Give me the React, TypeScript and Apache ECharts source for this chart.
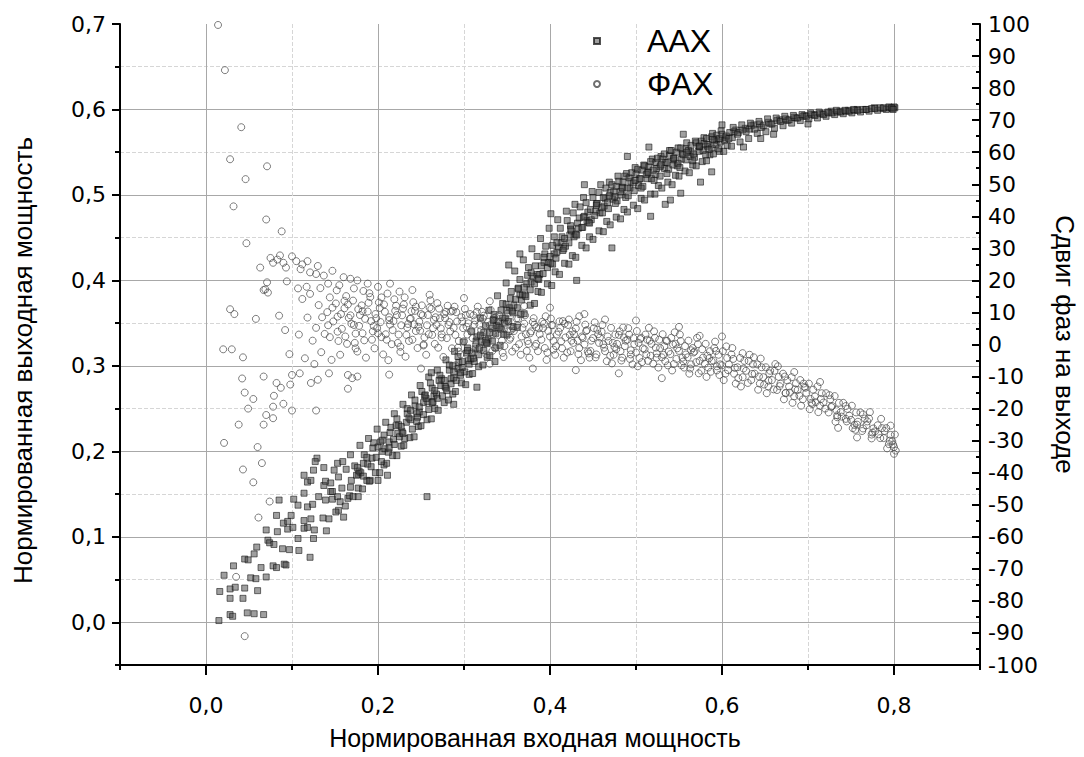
import React, { useEffect, useRef } from "react";
import * as echarts from "echarts";

// Axis tick values
const xMajorTicks = [0, 0.2, 0.4, 0.6, 0.8];
const leftMajorTicks = [0, 0.1, 0.2, 0.3, 0.4, 0.5, 0.6, 0.7];
const leftSolidGrid = [0, 0.1, 0.2, 0.3, 0.4, 0.5, 0.6];

const seriesNames = ["ААХ", "ФАХ"];
const xTitle = "Нормированная входная мощность";
const leftTitle = "Нормированная выходная мощность";
const rightTitle = "Сдвиг фаз на выходе";

// ААХ: [input power, output power] (left axis)
const aaxLow = [
  [0.015, 0.002], [0.028, 0.009], [0.031, 0.007], [0.048, 0.011], [0.056, 0.01], [0.067, 0.009],
  [0.016, 0.036], [0.028, 0.039], [0.034, 0.041], [0.045, 0.04], [0.06, 0.037], [0.028, 0.028],
  [0.043, 0.028], [0.021, 0.055], [0.032, 0.066], [0.045, 0.074], [0.049, 0.073], [0.056, 0.08],
  [0.064, 0.064], [0.07, 0.053], [0.052, 0.052], [0.058, 0.051], [0.078, 0.066], [0.082, 0.064],
  [0.091, 0.068], [0.059, 0.088], [0.072, 0.096], [0.07, 0.108], [0.083, 0.106], [0.095, 0.109],
  [0.107, 0.098], [0.121, 0.076], [0.108, 0.084], [0.125, 0.098], [0.118, 0.111], [0.082, 0.125],
  [0.102, 0.144], [0.085, 0.143], [0.114, 0.151], [0.129, 0.192], [0.257, 0.147], [0.093, 0.067],
  [0.089, 0.086], [0.097, 0.085], [0.074, 0.093], [0.079, 0.091], [0.101, 0.111], [0.114, 0.11],
  [0.126, 0.108], [0.14, 0.107], [0.114, 0.119], [0.099, 0.125], [0.09, 0.116], [0.095, 0.118],
  [0.122, 0.121], [0.136, 0.122], [0.143, 0.121], [0.107, 0.137], [0.118, 0.135], [0.124, 0.138],
  [0.131, 0.147], [0.139, 0.143], [0.147, 0.144], [0.154, 0.131], [0.16, 0.123], [0.153, 0.147],
  [0.165, 0.145], [0.168, 0.158], [0.177, 0.147], [0.145, 0.153], [0.137, 0.16], [0.139, 0.165],
  [0.118, 0.164], [0.122, 0.166], [0.114, 0.172], [0.125, 0.178], [0.127, 0.188], [0.137, 0.181],
  [0.149, 0.178], [0.153, 0.186], [0.191, 0.166], [0.211, 0.172], [0.2, 0.166], [0.177, 0.173],
  [0.18, 0.175]
];

const aaxRise = [
  [0.151, 0.129], [0.147, 0.153], [0.154, 0.17], [0.156, 0.141], [0.145, 0.163],
  [0.162, 0.136], [0.158, 0.157], [0.163, 0.179], [0.167, 0.148], [0.159, 0.188],
  [0.171, 0.147], [0.169, 0.166], [0.173, 0.183], [0.177, 0.157], [0.168, 0.196], [0.175, 0.172],
  [0.182, 0.156], [0.178, 0.177], [0.184, 0.196], [0.187, 0.166], [0.179, 0.207], [0.183, 0.186],
  [0.19, 0.165], [0.188, 0.185], [0.194, 0.204], [0.197, 0.175], [0.189, 0.215], [0.193, 0.192],
  [0.202, 0.175], [0.198, 0.193], [0.203, 0.211], [0.207, 0.184], [0.199, 0.226], [0.205, 0.2],
  [0.21, 0.186], [0.208, 0.203], [0.214, 0.222], [0.217, 0.195], [0.209, 0.234], [0.213, 0.211],
  [0.222, 0.195], [0.218, 0.214], [0.224, 0.231], [0.227, 0.206], [0.219, 0.244], [0.223, 0.221],
  [0.23, 0.207], [0.228, 0.223], [0.234, 0.244], [0.237, 0.216], [0.229, 0.255], [0.233, 0.234],
  [0.242, 0.217], [0.238, 0.237], [0.243, 0.253], [0.247, 0.229], [0.239, 0.266], [0.245, 0.244],
  [0.25, 0.23], [0.248, 0.246], [0.254, 0.265], [0.257, 0.237], [0.249, 0.277], [0.253, 0.257],
  [0.262, 0.238], [0.258, 0.258], [0.263, 0.274], [0.266, 0.25], [0.259, 0.287], [0.265, 0.265],
  [0.27, 0.248], [0.268, 0.267], [0.274, 0.285], [0.277, 0.257], [0.269, 0.295], [0.273, 0.277],
  [0.282, 0.26], [0.278, 0.276], [0.283, 0.295], [0.287, 0.267], [0.279, 0.307], [0.285, 0.285],
  [0.29, 0.27], [0.288, 0.286], [0.294, 0.304], [0.297, 0.28], [0.289, 0.317], [0.293, 0.297],
  [0.302, 0.278], [0.298, 0.298], [0.303, 0.315], [0.306, 0.29], [0.299, 0.328], [0.305, 0.306],
  [0.31, 0.291], [0.308, 0.308], [0.314, 0.329], [0.317, 0.299], [0.309, 0.34], [0.313, 0.32],
  [0.322, 0.301], [0.318, 0.321], [0.323, 0.339], [0.327, 0.31], [0.319, 0.356], [0.325, 0.33],
  [0.33, 0.312], [0.328, 0.331], [0.334, 0.353], [0.337, 0.321], [0.329, 0.365], [0.333, 0.344],
  [0.342, 0.324], [0.338, 0.347], [0.343, 0.365], [0.346, 0.337], [0.339, 0.382], [0.345, 0.356],
  [0.35, 0.336], [0.348, 0.356], [0.354, 0.379], [0.357, 0.346], [0.349, 0.397], [0.353, 0.368],
  [0.362, 0.345], [0.358, 0.371], [0.363, 0.391], [0.366, 0.36], [0.359, 0.411], [0.365, 0.383],
  [0.37, 0.361], [0.368, 0.383], [0.374, 0.406], [0.377, 0.371], [0.369, 0.424], [0.373, 0.396],
  [0.382, 0.373], [0.378, 0.398], [0.383, 0.417], [0.386, 0.387], [0.379, 0.437], [0.385, 0.407],
  [0.39, 0.386], [0.388, 0.407], [0.394, 0.431], [0.397, 0.396], [0.389, 0.449], [0.393, 0.421],
  [0.402, 0.394], [0.398, 0.421], [0.403, 0.441], [0.406, 0.41], [0.399, 0.461], [0.405, 0.431],
  [0.352, 0.418], [0.365, 0.431], [0.315, 0.275], [0.336, 0.305], [0.288, 0.255], [0.262, 0.292]
];

const aaxUpper = [
  [0.411, 0.407], [0.408, 0.433], [0.414, 0.451], [0.417, 0.42], [0.409, 0.471], [0.413, 0.444],
  [0.422, 0.419], [0.418, 0.44], [0.424, 0.464], [0.426, 0.429], [0.419, 0.481], [0.423, 0.453],
  [0.43, 0.427], [0.428, 0.451], [0.434, 0.473], [0.437, 0.441], [0.429, 0.489], [0.433, 0.461],
  [0.442, 0.438], [0.438, 0.462], [0.444, 0.48], [0.446, 0.451], [0.439, 0.497], [0.443, 0.47],
  [0.45, 0.448], [0.448, 0.471], [0.454, 0.49], [0.457, 0.458], [0.449, 0.504], [0.453, 0.481],
  [0.462, 0.457], [0.458, 0.479], [0.464, 0.496], [0.466, 0.469], [0.459, 0.512], [0.463, 0.487],
  [0.47, 0.465], [0.468, 0.484], [0.474, 0.504], [0.477, 0.474], [0.469, 0.515], [0.473, 0.495],
  [0.482, 0.472], [0.478, 0.493], [0.484, 0.509], [0.486, 0.483], [0.479, 0.522], [0.483, 0.5],
  [0.49, 0.48], [0.488, 0.497], [0.494, 0.516], [0.497, 0.488], [0.489, 0.525], [0.493, 0.508],
  [0.502, 0.484], [0.498, 0.505], [0.504, 0.519], [0.506, 0.496], [0.499, 0.532], [0.503, 0.511],
  [0.51, 0.494], [0.508, 0.51], [0.514, 0.527], [0.517, 0.501], [0.509, 0.535], [0.513, 0.519],
  [0.522, 0.501], [0.518, 0.519], [0.524, 0.531], [0.526, 0.511], [0.519, 0.542], [0.523, 0.524],
  [0.53, 0.508], [0.528, 0.522], [0.534, 0.538], [0.537, 0.515], [0.529, 0.545], [0.533, 0.531],
  [0.542, 0.512], [0.538, 0.53], [0.544, 0.541], [0.546, 0.523], [0.539, 0.552], [0.543, 0.535],
  [0.55, 0.522], [0.548, 0.534], [0.554, 0.548], [0.557, 0.528], [0.549, 0.555], [0.553, 0.542],
  [0.562, 0.526], [0.558, 0.541], [0.564, 0.55], [0.566, 0.535], [0.559, 0.561], [0.563, 0.545],
  [0.57, 0.534], [0.568, 0.544], [0.574, 0.556], [0.577, 0.539], [0.569, 0.563], [0.573, 0.551],
  [0.582, 0.54], [0.578, 0.552], [0.584, 0.559], [0.586, 0.547], [0.579, 0.567], [0.583, 0.557],
  [0.59, 0.548], [0.588, 0.555], [0.594, 0.565], [0.597, 0.551], [0.589, 0.572], [0.593, 0.559],
  [0.602, 0.551], [0.598, 0.562], [0.604, 0.567], [0.606, 0.558], [0.599, 0.575], [0.603, 0.564],
  [0.517, 0.475], [0.534, 0.489], [0.552, 0.502], [0.575, 0.515], [0.588, 0.527], [0.54, 0.494],
  [0.472, 0.438], [0.431, 0.4], [0.401, 0.478], [0.44, 0.512], [0.49, 0.545], [0.515, 0.556],
  [0.555, 0.571], [0.6, 0.582]
];

const aaxDense = [
  [0.176, 0.181], [0.183, 0.171], [0.187, 0.193], [0.192, 0.182], [0.195, 0.21], [0.2, 0.205],
  [0.204, 0.188], [0.207, 0.219], [0.212, 0.199], [0.215, 0.228], [0.219, 0.208], [0.222, 0.238],
  [0.225, 0.217], [0.227, 0.229], [0.231, 0.215], [0.234, 0.25], [0.236, 0.239], [0.24, 0.226],
  [0.243, 0.26], [0.245, 0.235], [0.248, 0.252], [0.251, 0.27], [0.253, 0.243], [0.256, 0.262],
  [0.259, 0.249], [0.261, 0.28], [0.264, 0.258], [0.266, 0.271], [0.269, 0.262], [0.272, 0.289],
  [0.275, 0.265], [0.277, 0.283], [0.28, 0.271], [0.283, 0.301], [0.285, 0.279], [0.288, 0.293],
  [0.291, 0.283], [0.293, 0.311], [0.296, 0.289], [0.298, 0.305], [0.301, 0.293], [0.304, 0.321],
  [0.306, 0.302], [0.309, 0.315], [0.312, 0.305], [0.315, 0.334], [0.317, 0.313], [0.32, 0.328],
  [0.323, 0.318], [0.325, 0.347], [0.327, 0.326], [0.33, 0.339], [0.333, 0.329], [0.335, 0.36],
  [0.337, 0.338], [0.34, 0.352], [0.343, 0.343], [0.345, 0.373], [0.347, 0.35], [0.35, 0.365],
  [0.352, 0.352], [0.355, 0.387], [0.357, 0.362], [0.36, 0.378], [0.362, 0.368], [0.365, 0.401],
  [0.367, 0.377], [0.37, 0.392], [0.372, 0.381], [0.375, 0.415], [0.377, 0.389], [0.38, 0.405],
  [0.382, 0.396], [0.385, 0.428], [0.387, 0.401], [0.39, 0.417], [0.392, 0.408], [0.395, 0.44],
  [0.397, 0.415], [0.4, 0.428], [0.403, 0.419], [0.405, 0.451], [0.407, 0.426], [0.41, 0.439],
  [0.412, 0.461], [0.415, 0.435], [0.417, 0.449], [0.42, 0.47], [0.422, 0.444], [0.425, 0.458],
  [0.427, 0.479], [0.43, 0.454], [0.432, 0.467], [0.435, 0.486], [0.437, 0.462], [0.44, 0.475],
  [0.442, 0.491], [0.445, 0.468], [0.447, 0.483], [0.45, 0.497], [0.452, 0.476], [0.455, 0.49],
  [0.457, 0.503], [0.46, 0.485], [0.462, 0.497], [0.465, 0.508], [0.467, 0.491], [0.47, 0.503],
  [0.472, 0.512], [0.475, 0.498], [0.477, 0.51], [0.48, 0.516], [0.482, 0.504], [0.485, 0.515],
  [0.487, 0.522], [0.49, 0.508], [0.492, 0.52], [0.495, 0.526], [0.497, 0.514], [0.5, 0.524],
  [0.502, 0.53], [0.505, 0.519], [0.507, 0.529], [0.51, 0.534], [0.512, 0.524], [0.515, 0.533],
  [0.517, 0.539], [0.52, 0.529], [0.523, 0.538], [0.525, 0.543], [0.528, 0.533], [0.531, 0.542],
  [0.533, 0.548], [0.536, 0.538], [0.539, 0.546], [0.541, 0.552], [0.544, 0.543], [0.547, 0.55],
  [0.549, 0.537], [0.552, 0.555], [0.555, 0.547], [0.558, 0.554], [0.561, 0.552], [0.564, 0.558],
  [0.567, 0.548], [0.57, 0.561], [0.573, 0.557], [0.576, 0.563], [0.579, 0.56], [0.582, 0.566],
  [0.585, 0.553], [0.588, 0.568], [0.591, 0.564], [0.594, 0.57], [0.597, 0.566], [0.6, 0.571],
  [0.605, 0.569], [0.609, 0.573], [0.612, 0.567], [0.616, 0.576], [0.619, 0.573], [0.627, 0.578],
  [0.632, 0.577], [0.637, 0.582], [0.646, 0.579], [0.656, 0.583], [0.667, 0.588], [0.676, 0.587],
  [0.686, 0.59], [0.696, 0.593], [0.707, 0.594], [0.717, 0.595], [0.727, 0.598], [0.737, 0.598],
  [0.747, 0.599], [0.757, 0.6], [0.767, 0.6], [0.777, 0.602], [0.787, 0.601], [0.795, 0.602],
  [0.801, 0.602]
];

// densest middle of the ААХ cloud
const aaxCore = [
  [0.205, 0.213], [0.221, 0.23], [0.238, 0.248], [0.255, 0.266], [0.271, 0.283], [0.287, 0.3],
  [0.304, 0.318], [0.319, 0.336], [0.334, 0.354], [0.349, 0.372], [0.363, 0.39], [0.378, 0.409],
  [0.393, 0.427], [0.408, 0.444], [0.424, 0.46], [0.439, 0.474], [0.454, 0.488], [0.469, 0.499],
  [0.484, 0.508], [0.499, 0.517], [0.514, 0.526], [0.529, 0.535], [0.544, 0.543], [0.559, 0.55],
  [0.574, 0.557], [0.589, 0.565],
  [0.213, 0.204], [0.229, 0.221], [0.246, 0.24], [0.263, 0.257], [0.279, 0.274], [0.296, 0.292],
  [0.311, 0.309], [0.326, 0.327], [0.341, 0.345], [0.356, 0.364], [0.371, 0.383], [0.386, 0.402],
  [0.401, 0.42], [0.416, 0.437], [0.431, 0.453], [0.446, 0.467], [0.461, 0.479], [0.476, 0.49],
  [0.491, 0.499], [0.506, 0.508], [0.521, 0.517], [0.536, 0.525], [0.551, 0.532], [0.566, 0.54],
  [0.581, 0.547], [0.596, 0.554]
];

const aaxTop = [
  [0.611, 0.557], [0.608, 0.566], [0.614, 0.574], [0.613, 0.579],
  [0.621, 0.562], [0.618, 0.571], [0.624, 0.576], [0.623, 0.582],
  [0.631, 0.566], [0.628, 0.574], [0.634, 0.581], [0.633, 0.584],
  [0.641, 0.572], [0.638, 0.577], [0.644, 0.583], [0.643, 0.586],
  [0.651, 0.574], [0.648, 0.581], [0.654, 0.585], [0.653, 0.589],
  [0.661, 0.578], [0.658, 0.583], [0.664, 0.587], [0.663, 0.59],
  [0.671, 0.581], [0.668, 0.586], [0.674, 0.589], [0.673, 0.592],
  [0.681, 0.584], [0.678, 0.588], [0.684, 0.591], [0.683, 0.593],
  [0.691, 0.587], [0.688, 0.59], [0.694, 0.592], [0.693, 0.594],
  [0.701, 0.589], [0.698, 0.592], [0.704, 0.594], [0.703, 0.596],
  [0.711, 0.59], [0.708, 0.593], [0.714, 0.595], [0.713, 0.597],
  [0.721, 0.592], [0.718, 0.594], [0.724, 0.596], [0.723, 0.597],
  [0.731, 0.594], [0.728, 0.596], [0.734, 0.597], [0.733, 0.599],
  [0.741, 0.595], [0.738, 0.597], [0.744, 0.598], [0.743, 0.599],
  [0.751, 0.596], [0.748, 0.598], [0.754, 0.599], [0.753, 0.6],
  [0.761, 0.597], [0.758, 0.599], [0.764, 0.6],
  [0.771, 0.598], [0.768, 0.6], [0.774, 0.601],
  [0.781, 0.599], [0.778, 0.601], [0.784, 0.602],
  [0.791, 0.6], [0.788, 0.602], [0.794, 0.603],
  [0.798, 0.601], [0.8, 0.603], [0.797, 0.602], [0.799, 0.6],
  [0.625, 0.556], [0.66, 0.571], [0.7, 0.583], [0.645, 0.566]
];

// ФАХ: [input power, phase shift in degrees] (right axis)
const fazSparse = [
  [0.014, 99.7], [0.022, 85.6], [0.041, 67.8], [0.028, 57.8], [0.071, 55.6], [0.046, 51.6],
  [0.032, 43.1], [0.07, 39], [0.088, 35.3], [0.047, 31.6], [0.075, 27], [0.083, 26.5],
  [0.09, 25.5], [0.1, 27.5], [0.063, 24], [0.112, 25], [0.118, 26], [0.121, 22.5],
  [0.128, 22], [0.147, 23], [0.16, 21], [0.168, 20.5], [0.176, 20], [0.188, 19],
  [0.214, 19], [0.094, 19.7], [0.071, 19.4], [0.069, 17.2], [0.072, 16.2], [0.107, 17.5],
  [0.117, 18], [0.067, 17], [0.028, 11], [0.033, 9.5], [0.058, 8], [0.02, -1.5],
  [0.03, -1.5], [0.043, -4], [0.042, -10.6], [0.067, -10], [0.082, -12], [0.087, -13.5],
  [0.098, -12.5], [0.045, -15], [0.055, -17], [0.079, -16], [0.09, -18.5], [0.049, -20],
  [0.078, -19.4], [0.07, -22], [0.078, -23], [0.038, -25], [0.067, -25], [0.021, -30.7],
  [0.06, -32], [0.1, -20.6], [0.128, -20.6], [0.122, -12], [0.13, -11], [0.165, -13.8],
  [0.1, -9.5], [0.109, -9], [0.143, -9], [0.165, -9.5], [0.17, -10.5], [0.176, -10],
  [0.213, -9.4], [0.065, -37], [0.043, -39], [0.055, -43], [0.074, -49], [0.061, -54],
  [0.035, -72.5], [0.045, -91], [0.092, 4.5], [0.085, 9], [0.097, -3]
];

const fazFringe = [
  [0.078, 25.5], [0.086, 27.8], [0.093, 24], [0.105, 26], [0.11, 23.5], [0.13, 24.5],
  [0.137, 21.5], [0.142, 19], [0.155, 18.5], [0.172, 17.5], [0.19, 16], [0.2, 18],
  [0.225, 16.5], [0.24, 17], [0.26, 15.5], [0.3, 14.5], [0.33, 13.5], [0.37, 12],
  [0.4, 11.5], [0.44, 9.5], [0.5, 7.5], [0.55, 5.5], [0.6, 2.5], [0.25, -7.5],
  [0.29, -6.5], [0.33, -6], [0.38, -7.5], [0.43, -8], [0.48, -9], [0.53, -10.5]
];

const fazBodyLeft = [
  [0.112, 14.2], [0.108, 3.1], [0.115, -4.3],
  [0.121, 15.8], [0.118, 8.4], [0.124, 1.2], [0.126, -6.1],
  [0.131, 12.3], [0.128, 5.2], [0.134, -2.4], [0.133, 17.6],
  [0.141, 10.1], [0.138, 3.3], [0.144, 14.7], [0.146, -4.8],
  [0.151, 12.8], [0.148, 7.2], [0.154, 1.1], [0.156, -3.2], [0.152, 16.9],
  [0.161, 11.3], [0.158, 4.9], [0.164, 0.2], [0.163, 15.1], [0.166, 8.3],
  [0.171, 13.7], [0.168, 9.1], [0.174, 3.4], [0.176, -2.2], [0.172, 6.1],
  [0.181, 12.2], [0.178, 5.8], [0.184, 1.3], [0.183, 16.7], [0.186, -4.1], [0.179, 9.2],
  [0.191, 14.8], [0.188, 10.3], [0.194, 4.1], [0.196, -1.2], [0.192, 7.3],
  [0.201, 13.1], [0.198, 8.2], [0.204, 2.3], [0.206, -3.1], [0.202, 11.4], [0.199, 5.1],
  [0.211, 15.9], [0.208, 10.2], [0.214, 6.2], [0.216, 0.1], [0.212, -4.9], [0.209, 3.2],
  [0.221, 12.1], [0.218, 7.3], [0.224, 3.1], [0.226, -2.3], [0.222, 9.2], [0.219, 14.1],
  [0.231, 14.7], [0.228, 9.1], [0.234, 5.3], [0.236, 1.1], [0.232, -3.8], [0.229, 11.2],
  [0.241, 13.2], [0.238, 8.1], [0.244, 4.2], [0.246, -1.1], [0.242, 6.3], [0.239, 10.4],
  [0.251, 12.2], [0.248, 7.1], [0.254, 2.2], [0.256, -3.2], [0.252, 9.1], [0.249, 4.3],
  [0.261, 13.8], [0.258, 9.2], [0.264, 5.1], [0.266, 0.2], [0.262, 11.1], [0.259, 3.2],
  [0.271, 11.2], [0.268, 6.1], [0.274, 2.2], [0.276, -3.9], [0.272, 8.2], [0.269, 12.9],
  [0.281, 12.1], [0.278, 8.2], [0.284, 4.1], [0.286, -1.2], [0.282, 6.1], [0.279, 10.2],
  [0.291, 10.1], [0.288, 5.2], [0.294, 1.1], [0.296, -3.1], [0.292, 7.2], [0.289, 11.8],
  [0.301, 11.1], [0.298, 7.2], [0.304, 3.1], [0.306, -2.1], [0.302, 9.2], [0.299, 5.1]
];

const fazBodyMid = [
  [0.311, 9.1], [0.308, 4.2], [0.314, 0.1], [0.316, 11.8], [0.312, 6.2],
  [0.321, 10.2], [0.318, 6.1], [0.324, 2.2], [0.326, -3.1], [0.322, 8.1],
  [0.331, 10.8], [0.328, 7.1], [0.334, 3.2], [0.336, -1.1], [0.332, 5.1],
  [0.341, 9.2], [0.338, 5.1], [0.344, 1.2], [0.346, -3.9], [0.342, 7.1],
  [0.351, 9.8], [0.348, 6.2], [0.354, 2.1], [0.356, -2.2], [0.352, 4.1],
  [0.361, 8.1], [0.358, 4.2], [0.364, 0.1], [0.366, -3.2], [0.362, 6.1],
  [0.371, 9.1], [0.368, 5.2], [0.374, 1.1], [0.376, -4.1], [0.372, 3.2],
  [0.381, 8.2], [0.378, 4.1], [0.384, 0.2], [0.386, -2.1], [0.382, 6.2],
  [0.391, 7.1], [0.388, 3.2], [0.394, -1.1], [0.396, -4.8], [0.392, 5.1],
  [0.401, 8.1], [0.398, 4.2], [0.404, 1.1], [0.406, -3.2], [0.402, 6.1],
  [0.411, 7.2], [0.408, 3.1], [0.414, -1.2], [0.416, -4.1], [0.412, 5.2],
  [0.421, 6.1], [0.418, 2.2], [0.424, -2.1], [0.426, 4.1], [0.422, 7.8],
  [0.431, 7.1], [0.428, 3.2], [0.434, -1.1], [0.436, -4.9], [0.432, 1.2],
  [0.441, 6.2], [0.438, 2.1], [0.444, -2.2], [0.446, -4.1], [0.442, 4.2],
  [0.451, 5.1], [0.448, 1.2], [0.454, -3.1], [0.456, 3.2], [0.452, 6.9],
  [0.461, 6.1], [0.458, 2.2], [0.464, -2.1], [0.466, -5.2], [0.462, 0.1],
  [0.471, 5.2], [0.468, 1.1], [0.474, -3.2], [0.476, 3.1], [0.472, -5.9],
  [0.481, 4.1], [0.478, 0.2], [0.484, -4.1], [0.486, 2.2], [0.482, -2.1],
  [0.491, 5.1], [0.488, 1.2], [0.494, -3.1], [0.496, -6.2], [0.492, 3.1],
  [0.501, 4.2], [0.498, 0.1], [0.504, -4.2], [0.506, 2.1], [0.502, -6.8],
  [0.511, 3.1], [0.508, -1.2], [0.514, -5.1], [0.516, 1.2], [0.512, -3.1],
  [0.521, 4.1], [0.518, 0.2], [0.524, -4.1], [0.526, -7.2], [0.522, 2.1],
  [0.531, 3.2], [0.528, -1.1], [0.534, -5.2], [0.536, 1.1], [0.532, -3.2],
  [0.541, 2.1], [0.538, -2.2], [0.544, -6.1], [0.546, 0.2], [0.542, -8.1],
  [0.551, 3.1], [0.548, -1.2], [0.554, -4.1], [0.556, -7.2], [0.552, 1.1],
  [0.561, 1.2], [0.558, -3.1], [0.564, -6.2], [0.566, -1.1], [0.562, -9.1],
  [0.571, 2.1], [0.568, -2.2], [0.574, -5.1], [0.576, -8.2], [0.572, 0.1],
  [0.581, 0.2], [0.578, -4.1], [0.584, -7.2], [0.586, -2.1], [0.582, -10.1],
  [0.591, -1.1], [0.588, -5.2], [0.594, -8.1], [0.596, -3.2], [0.592, 0.9],
  [0.601, -2.1], [0.598, -6.2], [0.604, -9.1], [0.606, -4.2], [0.602, -11.1]
];

const fazDense = [
  [0.135, 8.5], [0.142, 6], [0.147, 11.5], [0.153, 4], [0.157, 9.5], [0.162, 2.5],
  [0.165, 12.5], [0.169, 6.5], [0.173, 0.5], [0.177, 11], [0.182, 3.5], [0.185, 8],
  [0.189, 13], [0.193, 1.5], [0.197, 9.5], [0.2, 3.5], [0.203, 7], [0.207, 12.5],
  [0.21, 1.5], [0.213, 8.5], [0.217, 4.5], [0.22, 10.5], [0.223, 0.5], [0.227, 6],
  [0.23, 12.5], [0.233, 3], [0.237, 8], [0.24, 1.5], [0.243, 10.5], [0.247, 5.5],
  [0.25, 9.5], [0.253, 0], [0.257, 6], [0.26, 11.5], [0.263, 3], [0.267, 8.5],
  [0.27, -1], [0.273, 5], [0.277, 9.5], [0.28, 2], [0.283, 7], [0.287, 10.5],
  [0.29, 3], [0.293, -1], [0.297, 8.5], [0.3, 1], [0.303, 5.5], [0.307, 9.5],
  [0.31, 2], [0.313, 7.5], [0.317, -1.5], [0.32, 4.5], [0.323, 9], [0.327, 1],
  [0.33, 6], [0.333, -2], [0.337, 8.5], [0.34, 3], [0.343, 5], [0.347, -0.5],
  [0.35, 7.5], [0.353, 1.5], [0.357, 5], [0.36, -1], [0.363, 8], [0.367, 2.5],
  [0.37, 6.5], [0.373, -2], [0.377, 3.5], [0.38, 7], [0.383, -0.5], [0.387, 5],
  [0.39, 1.5], [0.393, 6.5], [0.397, -2.5], [0.4, 2.5], [0.403, 6], [0.407, -0.5],
  [0.41, 4], [0.413, 1], [0.417, 6.5], [0.42, -2.5], [0.423, 3], [0.427, 0.5],
  [0.43, 5], [0.433, -3], [0.437, 2.5], [0.44, 0], [0.443, 4.5], [0.447, -2],
  [0.45, 2], [0.453, -4], [0.457, 0.5], [0.46, 4], [0.463, -1], [0.467, 2.5],
  [0.47, -3.5], [0.473, 0.5], [0.477, -1.5], [0.48, 3], [0.483, -5], [0.487, -0.5],
  [0.49, 1.5], [0.493, -4.5], [0.497, 2], [0.5, -2.5], [0.503, 0.5], [0.507, -5.5],
  [0.51, -1.5], [0.513, 1.5], [0.517, -3.5], [0.52, -6], [0.523, -1], [0.527, 1.5],
  [0.53, -4], [0.533, -0.5], [0.537, -6.5], [0.54, -3], [0.543, 0], [0.547, -4.5],
  [0.55, -2], [0.553, -6.5], [0.557, -0.5], [0.56, -4], [0.563, -7.5], [0.567, -2.5],
  [0.57, -5.5], [0.573, -9], [0.577, -1.5], [0.58, -6], [0.583, -3.5], [0.587, -8.5],
  [0.59, -5], [0.593, -2], [0.597, -9.5], [0.6, -6.5], [0.607, -8], [0.613, -4.5],
  [0.619, -10.5], [0.625, -7.5], [0.63, -12], [0.637, -4], [0.643, -10], [0.649, -12.5],
  [0.655, -9], [0.66, -14], [0.667, -13], [0.673, -10], [0.679, -15], [0.685, -14],
  [0.69, -16], [0.697, -13.5], [0.703, -17], [0.709, -18], [0.715, -17], [0.72, -20],
  [0.727, -19.5], [0.733, -20.5], [0.739, -22.5], [0.745, -24], [0.75, -23.5], [0.757, -25],
  [0.763, -27], [0.769, -24], [0.775, -27.5], [0.782, -28], [0.789, -27], [0.795, -30],
  [0.8, -32]
];

// further circles filling the main ФАХ band
const fazCore = [
  [0.144, 2.3], [0.153, 8.7], [0.161, 13.6], [0.174, -1.2], [0.182, 10.4], [0.195, 5.8],
  [0.204, 14.7], [0.213, 7.6], [0.226, -0.7], [0.235, 6.4], [0.244, 11.8], [0.253, -0.3],
  [0.265, 7.7], [0.274, 3.2], [0.285, 10.3], [0.294, -2.2], [0.305, 6.6], [0.315, 10.2],
  [0.324, 0.3], [0.335, 8.3], [0.345, -2.6], [0.354, 4.2], [0.366, 9.8], [0.375, 0.2],
  [0.384, 5.4], [0.395, 8.8], [0.404, -1.6], [0.415, 7.3], [0.425, 1.2], [0.434, 8.8],
  [0.445, -2.8], [0.455, 4.6], [0.464, 7.8], [0.475, -0.8], [0.485, 5.3], [0.494, -1.8],
  [0.505, 1.7], [0.515, 5.2], [0.524, -2.8], [0.535, 1.2], [0.545, 3.8], [0.555, -5.3],
  [0.564, -1.8], [0.574, 2.7], [0.585, -4.3], [0.594, -6.8], [0.605, -0.6], [0.615, -7.3],
  [0.624, -2.7], [0.635, -9.2], [0.645, -4.4], [0.654, -11.3], [0.665, -6.8], [0.674, -15.2],
  [0.684, -8.6], [0.695, -12.2], [0.705, -18.6], [0.714, -11.7], [0.725, -15.8], [0.734, -22.7],
  [0.744, -19.2], [0.755, -26.6], [0.764, -21.8], [0.774, -29.3], [0.785, -23.2], [0.792, -32.4],
  [0.796, -25.3]
];

const fazTail = [
  [0.611, -3.1], [0.608, -6.2], [0.614, -9.1], [0.616, -12.2], [0.612, -1.1],
  [0.621, -4.2], [0.618, -7.1], [0.624, -10.2], [0.626, -5.1], [0.622, -13.1],
  [0.631, -5.1], [0.628, -8.2], [0.634, -11.1], [0.636, -6.2], [0.632, -3.2],
  [0.641, -6.2], [0.638, -9.1], [0.644, -12.2], [0.646, -7.1], [0.642, -14.1],
  [0.651, -7.1], [0.648, -10.2], [0.654, -13.1], [0.656, -8.2], [0.652, -15.2],
  [0.661, -8.2], [0.658, -11.1], [0.664, -14.2], [0.666, -10.1], [0.662, -6.1],
  [0.671, -9.1], [0.668, -12.2], [0.674, -15.1], [0.676, -11.2], [0.672, -17.1],
  [0.681, -10.2], [0.678, -13.1], [0.684, -16.2], [0.686, -12.1], [0.682, -18.2],
  [0.691, -11.1], [0.688, -14.2], [0.694, -17.1], [0.696, -13.2], [0.692, -19.1],
  [0.701, -12.2], [0.698, -15.1], [0.704, -18.2], [0.706, -14.1], [0.702, -20.2],
  [0.711, -13.1], [0.708, -16.2], [0.714, -19.1], [0.716, -15.2], [0.712, -21.1],
  [0.721, -15.2], [0.718, -18.1], [0.724, -21.2], [0.726, -17.1],
  [0.731, -16.1], [0.728, -19.2], [0.734, -22.1], [0.736, -18.2], [0.732, -24.1],
  [0.741, -18.2], [0.738, -21.1], [0.744, -23.2], [0.746, -20.1],
  [0.751, -19.1], [0.748, -22.2], [0.754, -25.1], [0.756, -21.2], [0.752, -26.1],
  [0.761, -21.2], [0.758, -24.1], [0.764, -26.2], [0.766, -23.1],
  [0.771, -23.1], [0.768, -25.2], [0.774, -28.1], [0.776, -26.2], [0.772, -21.1],
  [0.781, -25.2], [0.778, -27.1], [0.784, -29.2], [0.786, -26.1],
  [0.791, -26.1], [0.788, -29.2], [0.794, -31.1], [0.796, -28.2],
  [0.801, -28.1], [0.798, -30.2], [0.802, -33.1], [0.799, -31.2], [0.8, -34.1],
  [0.757, -29], [0.735, -26]
];

const fmtComma = (v: number) => v.toFixed(1).replace(".", ",");
const font = "'Liberation Sans', Arial, sans-serif";
const tickFont = "'DejaVu Sans', 'Liberation Sans', sans-serif";

export default function App() {
  const ref = useRef<HTMLDivElement>(null);

  useEffect(() => {
    if (!ref.current) return;
    const chart = echarts.init(ref.current, null, { renderer: "svg" });

    const black = { color: "#000", width: 2 };
    const baseX = { type: "value", min: -0.1, max: 0.9, position: "bottom" };
    const baseLeft = { type: "value", min: -0.05, max: 0.7, position: "left" };

    chart.setOption({
      animation: false,
      backgroundColor: "#fff",
      textStyle: { fontFamily: font },
      grid: { left: 120, right: 104, top: 24, bottom: 92, outerBoundsMode: "none" },
      legend: {
        data: [
          { name: seriesNames[0], icon: "rect" },
          { name: seriesNames[1], icon: "circle" }
        ],
        orient: "vertical",
        left: 588,
        top: 20,
        itemWidth: 6,
        itemHeight: 6,
        itemGap: 11,
        selectedMode: false,
        textStyle: { fontSize: 32, color: "#000", fontFamily: font, padding: [0, 0, 0, 42] }
      },
      xAxis: [
        {
          ...baseX,
          interval: 0.1,
          axisLine: { show: true, onZero: false, lineStyle: black },
          axisTick: { show: true, length: 5, lineStyle: black },
          axisLabel: { show: false },
          splitLine: { show: true, lineStyle: { color: "#d6d6d6", type: "dashed", width: 1 } }
        },
        {
          ...baseX,
          axisLine: { show: false, onZero: false },
          axisTick: { show: true, length: 10, customValues: xMajorTicks, lineStyle: black },
          axisLabel: {
            show: true,
            customValues: xMajorTicks,
            formatter: fmtComma,
            fontSize: 22,
            fontFamily: tickFont,
            color: "#000",
            margin: 29
          },
          splitLine: { show: true, lineStyle: { color: "#a8a8a8", width: 1 } },
          name: xTitle,
          nameLocation: "middle",
          nameGap: 60,
          nameTextStyle: { fontSize: 25, color: "#000", padding: [0, 30, 0, 0] }
        }
      ],
      yAxis: [
        {
          ...baseLeft,
          interval: 0.05,
          axisLine: { show: true, onZero: false, lineStyle: black },
          axisTick: { show: true, length: 5, lineStyle: black },
          axisLabel: { show: false },
          splitLine: { show: true, showMaxLine: false, showMinLine: false, lineStyle: { color: "#d6d6d6", type: "dashed", width: 1 } }
        },
        {
          ...baseLeft,
          axisLine: { show: false, onZero: false },
          axisTick: { show: true, length: 8, customValues: leftMajorTicks, lineStyle: black },
          axisLabel: {
            show: true,
            customValues: leftMajorTicks,
            formatter: fmtComma,
            fontSize: 22,
            fontFamily: tickFont,
            color: "#000",
            margin: 14
          },
          splitLine: { show: false },
          name: leftTitle,
          nameLocation: "middle",
          nameGap: 84,
          nameTextStyle: { fontSize: 26, color: "#000", padding: [0, 32, 0, 0] }
        },
        {
          ...baseLeft,
          axisLine: { show: false, onZero: false },
          axisTick: { show: false, customValues: leftSolidGrid },
          axisLabel: { show: false },
          splitLine: { show: true, lineStyle: { color: "#a8a8a8", width: 1 } }
        },
        {
          type: "value",
          min: -100,
          max: 100,
          interval: 10,
          position: "right",
          axisLine: { show: true, onZero: false, lineStyle: black },
          axisTick: { show: true, inside: true, length: 8, lineStyle: black },
          minorTick: { show: true, splitNumber: 2, length: 4, lineStyle: black },
          axisLabel: { show: true, fontSize: 22, fontFamily: tickFont, color: "#000", margin: 8 },
          splitLine: { show: false },
          name: rightTitle,
          nameLocation: "middle",
          nameRotate: -90,
          nameGap: 72,
          nameTextStyle: { fontSize: 26, color: "#000" }
        }
      ],
      series: [
        {
          name: seriesNames[0],
          type: "scatter",
          xAxisIndex: 0,
          yAxisIndex: 0,
          symbol: "rect",
          symbolSize: 6,
          itemStyle: { color: "rgba(70,70,70,0.65)", borderColor: "rgba(15,15,15,0.9)", borderWidth: 0.8 },
          data: [...aaxLow, ...aaxRise, ...aaxUpper, ...aaxDense, ...aaxCore, ...aaxTop]
        },
        {
          name: seriesNames[1],
          type: "scatter",
          xAxisIndex: 0,
          yAxisIndex: 3,
          symbol: "circle",
          symbolSize: 7,
          itemStyle: { color: "rgba(255,255,255,0)", borderColor: "#4a4a4a", borderWidth: 0.9 },
          data: [...fazSparse, ...fazFringe, ...fazBodyLeft, ...fazBodyMid, ...fazDense, ...fazCore, ...fazTail]
        }
      ]
    });

    return () => chart.dispose();
  }, []);

  return (
    <div
      ref={ref}
      style={{ position: "absolute", left: 0, top: 0, width: 1084, height: 757, background: "#fff" }}
    />
  );
}
